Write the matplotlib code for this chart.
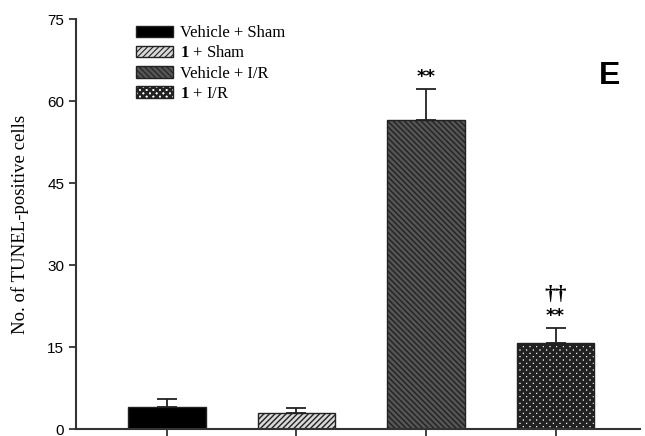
import matplotlib.pyplot as plt
from matplotlib.font_manager import FontProperties

groups = ["Vehicle + Sham", "$\\mathbf{1}$ + Sham", "Vehicle + I/R", "$\\mathbf{1}$ + I/R"]
means = [4.0, 3.0, 56.6, 15.8]
errors = [1.5, 0.9, 5.6, 2.6]
stars = ["", "", "**", "**"]
daggers = ["", "", "", "††"]

faces = ["black", "#d9d9d9", "#555555", "white"]
hatches = [None, "//////", "\\\\\\\\\\\\", "xxxxx"]
hatch_widths = [1.0, 1.0, 1.0, 2.4]

plt.rcParams["mathtext.fontset"] = "custom"
plt.rcParams["mathtext.rm"] = "Liberation Serif"
plt.rcParams["mathtext.bf"] = "Liberation Serif:bold"
plt.rcParams["hatch.linewidth"] = 1.0

fig = plt.figure(figsize=(6.45, 4.36), dpi=100)
ax = fig.add_axes([0.118, 0.016, 0.874, 0.940])

x = list(range(len(means)))
for i in x:
    bars = ax.bar(i, means[i], width=0.6, color=faces[i], hatch=hatches[i],
                  edgecolor="#222222", linewidth=1.0, label=groups[i], zorder=2)
    for b in bars:
        if hasattr(b, "set_hatch_linewidth"):
            b.set_hatch_linewidth(hatch_widths[i])
    ax.errorbar(i, means[i], yerr=[[0], [errors[i]]], fmt="none",
                ecolor="#222222", elinewidth=1.3, capsize=7, capthick=1.3, zorder=3)
    top = means[i] + errors[i]
    if stars[i]:
        ax.text(i, top + 0.6, stars[i], ha="center", va="bottom",
                fontsize=13, fontweight="bold")
    if daggers[i]:
        ax.text(i, top + 4.3, daggers[i], ha="center", va="bottom",
                fontsize=16, fontfamily="Liberation Serif", fontweight="bold")

ax.set_xlim(-0.7, 3.65)
ax.set_ylim(0, 75)
ax.set_yticks([0, 15, 30, 45, 60, 75])
ax.set_xticks(x)
ax.set_xticklabels([])
ax.tick_params(axis="both", direction="out", length=5, width=1.3, colors="#333333",
               labelsize=11, labelcolor="black")
for lab in ax.get_yticklabels():
    lab.set_fontfamily("Liberation Sans")
ax.spines["top"].set_visible(False)
ax.spines["right"].set_visible(False)
for side in ["left", "bottom"]:
    ax.spines[side].set_linewidth(1.5)
    ax.spines[side].set_color("#333333")

ax.set_ylabel("No. of TUNEL-positive cells", fontfamily="Liberation Serif", fontsize=13.5)
ax.yaxis.set_label_coords(-0.084, 0.5)

leg = ax.legend(loc="upper left", bbox_to_anchor=(0.106, 0.985), borderaxespad=0,
                borderpad=0, frameon=False,
                prop=FontProperties(family="Liberation Serif", size=12),
                handlelength=2.2, handleheight=0.7, handletextpad=0.45, labelspacing=0.25)
for patch, w in zip(leg.get_patches(), hatch_widths):
    if hasattr(patch, "set_hatch_linewidth"):
        patch.set_hatch_linewidth(w * 0.8)

ax.text(0.965, 0.861, "E", transform=ax.transAxes, fontsize=23, fontweight="bold",
        fontfamily="Liberation Sans", ha="right", va="center")

fig.savefig("out.png", dpi=100)
